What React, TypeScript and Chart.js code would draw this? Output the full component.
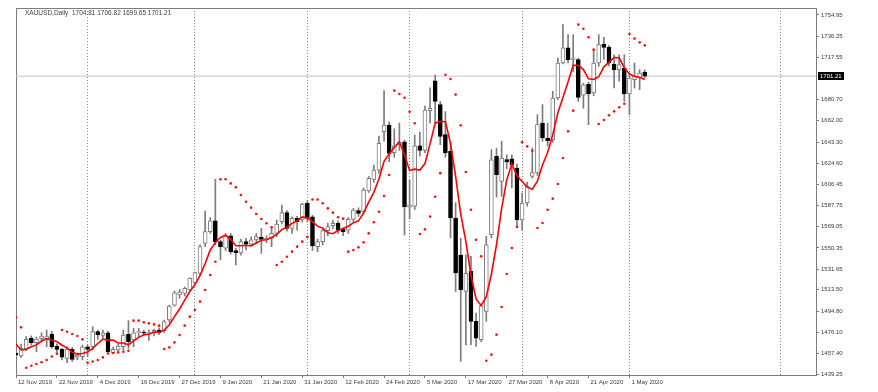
import React, { useEffect, useRef } from "react";
import { Chart, registerables } from "chart.js";

Chart.register(...registerables);

// ---- data (daily bars, 12 Nov 2019 .. 6 May 2020) ----
const opens = [
  1458, 1455.3, 1461.5, 1470.9, 1467, 1470.6, 1470.5, 1474.6, 1464.1, 1461.2,
  1453.3, 1461.2, 1454.2, 1454.7, 1463.5, 1463.5, 1476.7, 1473.5, 1475.8, 1458.2,
  1460.6, 1463.5, 1474.4, 1469.4, 1475.8, 1476, 1475, 1476, 1478.2, 1477.6,
  1487, 1500.1, 1509, 1510.4, 1513.3, 1519.8, 1528, 1554.3, 1564.6, 1574.2,
  1555.8, 1550, 1561, 1548, 1546, 1555.8, 1553.7, 1557.3, 1559.6, 1557.3,
  1558.7, 1563.1, 1573.4, 1581.3, 1567.5, 1576.3, 1574.8, 1589.5, 1577.7, 1551.4,
  1555.8, 1565.5, 1569.8, 1571.9, 1566.6, 1566, 1575.4, 1583, 1582.1, 1600.3,
  1610.5, 1618.7, 1652.4, 1658.3, 1634, 1641, 1643.6, 1586, 1587, 1640,
  1636, 1671, 1697, 1676.2, 1649.8, 1635.2, 1576.6, 1544, 1512, 1529.7,
  1485.8, 1469.7, 1494.6, 1561.9, 1630.8, 1608.8, 1628, 1628.5, 1620.5, 1575,
  1589.8, 1613.2, 1616.1, 1660, 1646.9, 1645.4, 1682, 1712.8, 1726, 1716,
  1715.7, 1684.4, 1694.3, 1686.4, 1712.8, 1729.5, 1726.5, 1711.9, 1706.9, 1708.4,
  1685.5, 1698.1, 1699.6, 1704.81,
];
const highs = [
  1462, 1465.9, 1472.5, 1473, 1472, 1475.8, 1478.2, 1477, 1466, 1462,
  1463.5, 1463, 1458, 1465, 1465, 1481.1, 1478, 1478.2, 1477, 1463,
  1466, 1478.2, 1486.4, 1479.6, 1479.6, 1478, 1478, 1479, 1480, 1487,
  1500, 1512.5, 1514, 1516, 1524, 1529, 1553, 1582.7, 1577, 1610.6,
  1557, 1563, 1563, 1550, 1558, 1558.7, 1560, 1563.1, 1567.5, 1561,
  1569, 1574.8, 1588, 1583, 1577.7, 1578, 1589.5, 1592, 1579, 1558,
  1568, 1572, 1574.8, 1574, 1568, 1577, 1585, 1585.5, 1603, 1613,
  1623, 1648.6, 1688.5, 1661, 1655, 1660, 1645, 1610, 1649.5, 1652,
  1675, 1691, 1702.2, 1679, 1670, 1643, 1590, 1559, 1544, 1543,
  1493, 1501, 1560.5, 1636.6, 1638, 1644, 1632, 1632, 1624, 1598.5,
  1608, 1638.1, 1667.4, 1676.2, 1660, 1687.9, 1717.2, 1746.5, 1737.7, 1737.7,
  1717, 1695, 1696, 1724.5, 1737.7, 1735.3, 1728, 1720, 1720, 1720,
  1704, 1712.8, 1707, 1706.82,
];
const lows = [
  1445, 1454, 1460, 1465, 1459, 1467.9, 1463.5, 1462, 1459, 1451.8,
  1449.5, 1450.5, 1452, 1452, 1455, 1460.6, 1470, 1471, 1458.3, 1458.5,
  1459, 1460.6, 1462, 1463.5, 1472.3, 1473, 1469, 1473, 1474, 1476,
  1485, 1499, 1506, 1508, 1512, 1518, 1526, 1551.4, 1563, 1553,
  1539.7, 1548, 1545, 1535.3, 1544, 1548.5, 1552, 1554.3, 1545.5, 1555,
  1551.4, 1560.2, 1571.3, 1565, 1563.1, 1566, 1573, 1573, 1548, 1547,
  1553, 1561, 1567.5, 1563, 1561, 1563, 1573, 1578, 1580, 1599,
  1608, 1616, 1644, 1626, 1630, 1636, 1561.6, 1576, 1584, 1631,
  1634, 1660, 1660, 1641, 1630, 1559, 1512, 1450.6, 1465, 1465.3,
  1463.8, 1468, 1485.8, 1559, 1595, 1595.6, 1620, 1603, 1568, 1566,
  1587, 1611.7, 1614, 1644, 1640, 1643, 1680.6, 1712, 1712.8, 1705,
  1679, 1673, 1658.6, 1684, 1709.9, 1716, 1710, 1690.8, 1696.7, 1679.1,
  1667.4, 1690.8, 1689.3, 1699.65,
];
const closes = [
  1456, 1462.1, 1470, 1467, 1470.3, 1472.9, 1472.3, 1463.5, 1461.2, 1454.2,
  1461.2, 1452.4, 1456.2, 1463.5, 1461.2, 1476.7, 1473.8, 1475.8, 1459.1, 1461.2,
  1464.1, 1473.8, 1467.9, 1475.8, 1476.8, 1475.5, 1475.8, 1477.8, 1475.8, 1485.5,
  1499.3, 1510.9, 1511.5, 1514.8, 1523.6, 1528.6, 1551.4, 1564.6, 1574.2, 1555.8,
  1551.4, 1561, 1547, 1546, 1555.8, 1553.7, 1557.3, 1560.2, 1557.8, 1558.7,
  1563.1, 1571.3, 1581.3, 1567.5, 1576.3, 1573.4, 1588.9, 1576.3, 1552, 1555.8,
  1565.5, 1569, 1571.9, 1566, 1564.6, 1575.4, 1583.6, 1580.7, 1601.2, 1611.4,
  1618.7, 1642.2, 1658.3, 1633.4, 1640, 1643, 1586.5, 1588, 1640, 1636,
  1671.5, 1673, 1679, 1648.3, 1633.7, 1576.6, 1528.3, 1513.6, 1528, 1485.8,
  1471.1, 1499.4, 1553.1, 1627.8, 1614.7, 1629.3, 1625.8, 1623.5, 1575.1, 1589.8,
  1604.4, 1616.5, 1658.6, 1646.9, 1644.5, 1682, 1712.8, 1726, 1715.7, 1717,
  1682.6, 1693.5, 1685.5, 1712.8, 1728.9, 1726.5, 1712.8, 1706.9, 1711.3, 1685.5,
  1699.6, 1701, 1704, 1701.21,
];
// red moving average line
const maLine = [
  1465.8, 1460.6, 1461.2, 1463.5, 1465.1, 1468.5, 1470.5, 1469.2, 1468.0, 1464.8,
  1462.5, 1458.5, 1457.0, 1457.5, 1458.9, 1462.0, 1466.3, 1470.2, 1469.3, 1469.3,
  1466.8, 1466.8, 1465.2, 1468.6, 1471.7, 1474.0, 1474.4, 1476.3, 1476.3, 1478.1,
  1482.8, 1489.9, 1496.6, 1504.4, 1512.0, 1517.9, 1526.0, 1536.6, 1548.5, 1554.9,
  1559.5, 1561.4, 1557.9, 1552.2, 1552.2, 1552.7, 1552.0, 1554.6, 1557.0, 1557.5,
  1559.4, 1562.2, 1566.4, 1568.4, 1571.9, 1574.0, 1577.5, 1576.5, 1573.4, 1569.3,
  1567.7, 1563.7, 1562.8, 1565.6, 1567.4, 1569.4, 1572.3, 1574.1, 1581.1, 1590.5,
  1599.1, 1610.8, 1626.4, 1632.8, 1638.5, 1643.4, 1632.2, 1618.2, 1619.5, 1618.7,
  1624.4, 1641.7, 1659.9, 1661.6, 1661.1, 1642.1, 1613.2, 1580.1, 1556.0, 1526.5,
  1505.4, 1499.6, 1507.5, 1527.4, 1553.2, 1584.9, 1610.1, 1624.2, 1613.7, 1608.7,
  1603.7, 1601.9, 1608.9, 1623.2, 1634.2, 1649.7, 1669.0, 1682.4, 1696.2, 1710.7,
  1710.8, 1707.0, 1698.9, 1698.3, 1700.7, 1709.4, 1713.3, 1717.6, 1717.3, 1708.6,
  1703.2, 1700.9, 1700.3, 1698.3,
];
// red dots (parabolic SAR)
const sarDots = [
  1489.3, 1480.5, 1445.0, 1446.8, 1448.3, 1449.9, 1451.8, 1454.9, 1457.4, 1478.2,
  1476.7, 1474.7, 1472.9, 1469.9, 1449.5, 1450.5, 1451.8, 1454.1, 1457.5, 1458.0,
  1458.5, 1459.0, 1460.0, 1486.4, 1486.4, 1485.0, 1484.0, 1483.1, 1482.0, 1461.5,
  1462.9, 1467.3, 1473.8, 1482.0, 1489.9, 1495.7, 1503.1, 1513.3, 1526.5, 1538.2,
  1610.6, 1610.6, 1607.0, 1603.5, 1596.8, 1590.9, 1585.7, 1580.1, 1575.7, 1572.0,
  1568.5, 1535.3, 1538.2, 1542.6, 1547.0, 1551.4, 1555.8, 1560.0, 1592.9, 1592.9,
  1589.5, 1585.0, 1581.3, 1577.2, 1576.0, 1547.0, 1548.5, 1550.8, 1555.2, 1563.1,
  1572.8, 1582.1, 1595.9, 1614.4, 1688.5, 1685.5, 1682.3, 1670.0, 1659.8, 1562.5,
  1566.6, 1577.8, 1595.3, 1616.0, 1702.5, 1698.7, 1685.0, 1658.0, 1617.0, 1583.9,
  1557.5, 1542.9, 1451.2, 1456.5, 1474.1, 1498.4, 1527.4, 1550.2, 1568.7, 1643.1,
  1639.5, 1635.7, 1567.8, 1572.2, 1583.9, 1593.6, 1606.5, 1629.3, 1652.7, 1670.9,
  1746.5, 1742.9, 1735.3, 1724.5, 1659.2, 1662.7, 1666.8, 1670.3, 1673.8, 1677.0,
  1738.3, 1734.2, 1730.9, 1728.3,
];
const dateLabels = [
  "12 Nov 2019", "22 Nov 2019", "4 Dec 2019", "16 Dec 2019", "27 Dec 2019",
  "9 Jan 2020", "21 Jan 2020", "31 Jan 2020", "12 Feb 2020", "24 Feb 2020",
  "5 Mar 2020", "17 Mar 2020", "27 Mar 2020", "8 Apr 2020", "21 Apr 2020", "1 May 2020",
];
const dateLabelBars = [0, 8, 16, 24, 32, 40, 48, 56, 64, 72, 80, 88, 96, 104, 112, 120];
const monthStartBars = [14, 35, 57, 77, 99, 120, 149.5];
const priceTicks = [
  1754.95, 1736.25, 1717.55, 1680.7, 1662.0, 1643.3, 1624.6, 1606.45, 1587.75,
  1569.05, 1550.35, 1531.65, 1513.5, 1494.8, 1476.1, 1457.4, 1439.25,
];
const lastPrice = 1701.21;
const headerText = "XAUUSD,Daily  1704.81 1706.82 1699.65 1701.21";

const X_MIN = 0;
const X_MAX = 156.5;
const Y_MIN = 1438.64;
const Y_MAX = 1761.1;

const FONT = '"Liberation Sans", Arial, sans-serif';
const AXIS_GREY = "#7c7c7c";
const TEXT = "#3a3a3a";

const priceBoxPlugin = {
  id: "priceBox",
  afterDraw(chart: any) {
    const { ctx, chartArea } = chart;
    const y = chart.scales.y.getPixelForValue(lastPrice);
    ctx.save();
    ctx.fillStyle = "#000000";
    ctx.fillRect(chartArea.right + 2, Math.round(y) - 4, 26, 8);
    ctx.fillStyle = "#ffffff";
    ctx.font = `6px ${FONT}`;
    ctx.textBaseline = "middle";
    ctx.textAlign = "left";
    ctx.fillText(lastPrice.toFixed(2), chartArea.right + 4, Math.round(y));
    ctx.restore();
  },
};

export default function App() {
  const canvasRef = useRef<HTMLCanvasElement | null>(null);

  useEffect(() => {
    const canvas = canvasRef.current;
    if (!canvas) return;

    const wickData = lows.map((l, i) => ({ x: i, y: [l, highs[i]] }));
    const bodyData = opens.map((o, i) => ({ x: i, y: [o, closes[i]] }));
    const bodyFill = opens.map((o, i) => (closes[i] >= o ? "#ffffff" : "#000000"));
    const bodyBorder = opens.map((o, i) => (closes[i] >= o ? AXIS_GREY : "#000000"));

    const chart = new Chart(canvas, {
      type: "bar",
      data: {
        datasets: [
          {
            type: "line",
            data: sarDots.map((v, i) => ({ x: i, y: v })),
            showLine: false,
            pointRadius: 1.3,
            pointBackgroundColor: "#ff1010",
            pointBorderWidth: 0,
            xAxisID: "x",
            yAxisID: "y",
            order: 0,
          } as any,
          {
            type: "line",
            data: maLine.map((v, i) => ({ x: i, y: v })),
            borderColor: "#ff0000",
            borderWidth: 1.6,
            pointRadius: 0,
            tension: 0,
            xAxisID: "x",
            yAxisID: "y",
            order: 1,
          } as any,
          {
            type: "bar",
            data: bodyData,
            backgroundColor: bodyFill,
            borderColor: bodyBorder,
            borderWidth: 1,
            borderSkipped: false,
            barThickness: 4,
            minBarLength: 1,
            grouped: false,
            xAxisID: "x",
            yAxisID: "y",
            order: 2,
          } as any,
          {
            type: "bar",
            data: wickData,
            backgroundColor: AXIS_GREY,
            borderWidth: 0,
            barThickness: 1,
            grouped: false,
            xAxisID: "x",
            yAxisID: "y",
            order: 3,
          } as any,
          {
            type: "line",
            data: [
              { x: X_MIN, y: lastPrice },
              { x: X_MAX, y: lastPrice },
            ],
            borderColor: "#cbbddd",
            borderWidth: 1,
            pointRadius: 0,
            xAxisID: "x",
            yAxisID: "y",
            order: 9,
          } as any,
        ],
      },
      options: {
        responsive: false,
        maintainAspectRatio: false,
        animation: false,
        events: [],
        layout: { padding: { left: 16, top: 8, right: 0, bottom: 0 } },
        plugins: {
          legend: { display: false },
          tooltip: { enabled: false },
          title: { display: false },
        },
        scales: {
          x: {
            type: "linear",
            position: "bottom",
            min: X_MIN,
            max: X_MAX,
            offset: false,
            afterBuildTicks: (s: any) => {
              s.ticks = dateLabelBars.map((v) => ({ value: v }));
            },
            afterFit: (s: any) => {
              s.height = 17;
            },
            ticks: {
              autoSkip: false,
              maxRotation: 0,
              minRotation: 0,
              align: "start",
              labelOffset: 2,
              padding: 1,
              color: TEXT,
              font: { family: FONT, size: 6 },
              callback: (v: any) => {
                const k = dateLabelBars.indexOf(Number(v));
                return k >= 0 ? dateLabels[k] : "";
              },
            },
            grid: {
              drawOnChartArea: false,
              drawTicks: true,
              tickLength: 3,
              color: AXIS_GREY,
              offset: false,
            },
            border: { display: true, color: AXIS_GREY, width: 1 },
          },
          y: {
            type: "linear",
            position: "right",
            min: Y_MIN,
            max: Y_MAX,
            afterBuildTicks: (s: any) => {
              s.ticks = priceTicks.map((v) => ({ value: v }));
            },
            afterFit: (s: any) => {
              s.width = 62;
            },
            ticks: {
              padding: 2,
              color: TEXT,
              font: { family: FONT, size: 6 },
              callback: (v: any) => Number(v).toFixed(2),
            },
            grid: {
              drawOnChartArea: false,
              drawTicks: true,
              tickLength: 3,
              color: AXIS_GREY,
            },
            border: { display: true, color: AXIS_GREY, width: 1 },
          },
          xg: {
            type: "linear",
            position: "top",
            min: X_MIN,
            max: X_MAX,
            offset: false,
            afterBuildTicks: (s: any) => {
              s.ticks = monthStartBars.map((v) => ({ value: v }));
            },
            afterFit: (s: any) => {
              s.height = 0;
            },
            ticks: { display: false },
            grid: {
              drawOnChartArea: true,
              drawTicks: false,
              color: "#8a8a8a",
              lineWidth: 1,
              offset: false,
            },
            border: { display: false, dash: [1, 2] },
          },
          xt: {
            type: "linear",
            position: "top",
            min: X_MIN,
            max: X_MAX,
            afterFit: (s: any) => {
              s.height = 0;
            },
            ticks: { display: false },
            grid: { drawOnChartArea: false, drawTicks: false },
            border: { display: true, color: AXIS_GREY, width: 1 },
          },
          yl: {
            type: "linear",
            position: "left",
            min: Y_MIN,
            max: Y_MAX,
            afterFit: (s: any) => {
              s.width = 0;
            },
            ticks: { display: false },
            grid: { drawOnChartArea: false, drawTicks: false },
            border: { display: true, color: AXIS_GREY, width: 1 },
          },
        } as any,
      },
      plugins: [priceBoxPlugin],
    } as any);

    return () => {
      chart.destroy();
    };
  }, []);

  return (
    <div
      style={{
        position: "fixed",
        left: 0,
        top: 0,
        width: 878,
        height: 392,
        background: "#ffffff",
        overflow: "hidden",
      }}
    >
      <canvas ref={canvasRef} width={878} height={392} style={{ display: "block" }} />
      <div
        style={{
          position: "absolute",
          left: 25,
          top: 9,
          fontFamily: FONT,
          fontSize: 6.5,
          lineHeight: "8px",
          color: TEXT,
          whiteSpace: "pre",
        }}
      >
        {headerText}
      </div>
    </div>
  );
}
